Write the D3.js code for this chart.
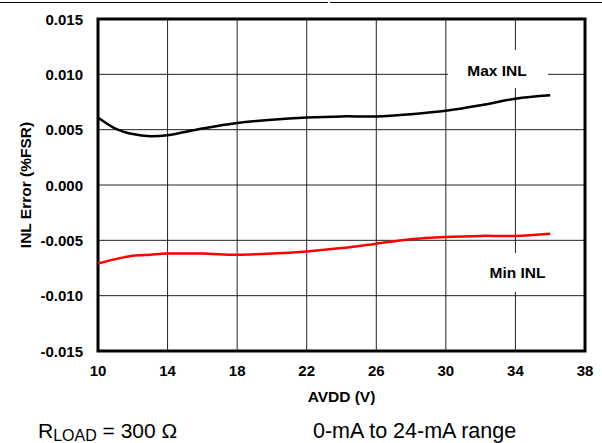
<!DOCTYPE html>
<html>
<head>
<meta charset="utf-8">
<script src="https://cdn.jsdelivr.net/npm/d3@7"></script>
<style>
  body { margin: 0; background: #fff; }
  svg { display: block; }
  text { font-family: "Liberation Sans", Arial, sans-serif; }
</style>
</head>
<body>
<script>
var avdd = [10, 11, 12, 13, 14, 16, 18, 20, 22, 24, 26, 28, 30, 32, 34, 36];
var maxInl = [0.0061, 0.0051, 0.0046, 0.0044, 0.0045, 0.0051, 0.0056, 0.0059, 0.0061, 0.0062, 0.0062, 0.0064, 0.0067, 0.0072, 0.0078, 0.0081];
var minInl = [-0.0071, -0.0067, -0.0064, -0.0063, -0.0062, -0.0062, -0.0063, -0.0062, -0.0060, -0.0057, -0.0053, -0.0049, -0.0047, -0.0046, -0.0046, -0.0044];
var xTicks = [10, 14, 18, 22, 26, 30, 34, 38];
var yTicks = [-0.015, -0.010, -0.005, 0.000, 0.005, 0.010, 0.015];

var width = 602, height = 443;
var plotLeft = 98, plotRight = 585, plotTop = 19, plotBottom = 351;

var svg = d3.select('body').append('svg')
  .attr('width', width)
  .attr('height', height);

var x = d3.scaleLinear().domain([10, 38]).range([plotLeft, plotRight]);
var y = d3.scaleLinear().domain([-0.015, 0.015]).range([plotBottom, plotTop]);

// top rule
svg.append('line').attr('x1', 0).attr('x2', 328).attr('y1', 2.5).attr('y2', 2.5)
  .style('stroke', '#000').style('stroke-width', 1);
svg.append('line').attr('x1', 330).attr('x2', 602).attr('y1', 2.5).attr('y2', 2.5)
  .style('stroke', '#000').style('stroke-width', 1);

// grid
svg.append('g').selectAll('line').data(xTicks.slice(1, -1)).enter().append('line')
  .attr('x1', function(d) { return x(d); })
  .attr('x2', function(d) { return x(d); })
  .attr('y1', plotTop).attr('y2', plotBottom)
  .style('stroke', '#222').style('stroke-width', 1);
svg.append('g').selectAll('line').data(yTicks.slice(1, -1)).enter().append('line')
  .attr('x1', plotLeft).attr('x2', plotRight)
  .attr('y1', function(d) { return y(d); })
  .attr('y2', function(d) { return y(d); })
  .style('stroke', '#222').style('stroke-width', 1);

// label boxes that hide the grid
svg.append('rect').attr('x', 448).attr('y', 50).attr('width', 100).attr('height', 38).style('fill', '#fff');
svg.append('rect').attr('x', 480).attr('y', 253).attr('width', 75).attr('height', 39).style('fill', '#fff');

// frame
svg.append('rect')
  .attr('x', plotLeft).attr('y', plotTop)
  .attr('width', plotRight - plotLeft).attr('height', plotBottom - plotTop)
  .style('fill', 'none').style('stroke', '#000').style('stroke-width', 3);

var line = d3.line()
  .x(function(d) { return x(d[0]); })
  .y(function(d) { return y(d[1]); })
  .curve(d3.curveCatmullRom.alpha(0.5));

svg.append('path')
  .attr('d', line(d3.zip(avdd, maxInl)))
  .style('fill', 'none').style('stroke', '#000').style('stroke-width', 2.5);
svg.append('path')
  .attr('d', line(d3.zip(avdd, minInl)))
  .style('fill', 'none').style('stroke', '#ff0000').style('stroke-width', 2.5);

// tick labels
svg.append('g').selectAll('text').data(yTicks).enter().append('text')
  .attr('x', 83).attr('y', function(d) { return y(d) + 5.5; })
  .attr('text-anchor', 'end')
  .style('font-size', '15px').style('font-weight', 'bold')
  .text(function(d) { return d.toFixed(3); });
svg.append('g').selectAll('text').data(xTicks).enter().append('text')
  .attr('x', function(d) { return x(d); }).attr('y', 375.5)
  .attr('text-anchor', 'middle')
  .style('font-size', '15px').style('font-weight', 'bold')
  .text(function(d) { return d; });

// axis titles
svg.append('text')
  .attr('transform', 'translate(31,' + y(0) + ') rotate(-90)')
  .attr('text-anchor', 'middle')
  .style('font-size', '15.5px').style('font-weight', 'bold')
  .text('INL Error (%FSR)');
svg.append('text')
  .attr('x', (plotLeft + plotRight) / 2).attr('y', 401.5)
  .attr('text-anchor', 'middle')
  .style('font-size', '15.5px').style('font-weight', 'bold')
  .text('AVDD (V)');

// series labels
svg.append('text').attr('x', 497).attr('y', 75.5).attr('text-anchor', 'middle')
  .style('font-size', '15.5px').style('font-weight', 'bold').text('Max INL');
svg.append('text').attr('x', 517.5).attr('y', 277.5).attr('text-anchor', 'middle')
  .style('font-size', '15.5px').style('font-weight', 'bold').text('Min INL');

// conditions
var cond = svg.append('text').attr('x', 38).attr('y', 438).style('font-size', '21px');
cond.append('tspan').text('R');
cond.append('tspan').attr('dy', 3).style('font-size', '16px').text('LOAD');
cond.append('tspan').attr('dy', -3).text(' = 300 \u03A9');
svg.append('text').attr('x', 313).attr('y', 438).style('font-size', '21.5px')
  .text('0-mA to 24-mA range');
</script>
</body>
</html>
